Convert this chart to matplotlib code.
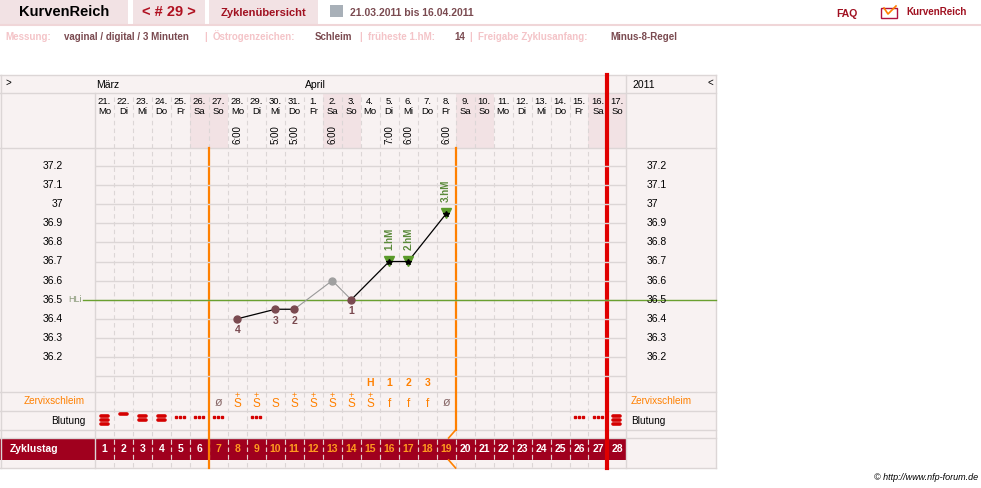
import matplotlib
matplotlib.use("Agg")
import matplotlib.pyplot as plt
from matplotlib.patches import Rectangle

plt.rcParams['font.family'] = ['Liberation Sans', 'DejaVu Sans']

# ---------------- data ----------------
dates = ["21.", "22.", "23.", "24.", "25.", "26.", "27.", "28.", "29.", "30.", "31.", "1.", "2.", "3.",
         "4.", "5.", "6.", "7.", "8.", "9.", "10.", "11.", "12.", "13.", "14.", "15.", "16.", "17."]
weekdays = ["Mo", "Di", "Mi", "Do", "Fr", "Sa", "So", "Mo", "Di", "Mi", "Do", "Fr", "Sa", "So",
            "Mo", "Di", "Mi", "Do", "Fr", "Sa", "So", "Mo", "Di", "Mi", "Do", "Fr", "Sa", "So"]
cycle_days = list(range(1, 29))
temp_days = [8, 10, 11, 13, 14, 16, 17, 19]
temps = [36.40, 36.45, 36.45, 36.60, 36.50, 36.70, 36.70, 36.95]
excluded_day = 13
low_labels = {8: "4", 10: "3", 11: "2", 14: "1"}
hm_labels = {16: "1.hM", 17: "2.hM", 19: "3.hM"}
times = {8: "6:00", 10: "5:00", 11: "5:00", 13: "6:00", 16: "7:00", 17: "6:00", 19: "6:00"}
mucus = {7: "ø", 8: "S+", 9: "S+", 10: "S", 11: "S+", 12: "S+", 13: "S+", 14: "S+", 15: "S+",
         16: "f", 17: "f", 18: "f", 19: "ø"}
peak_labels = {15: "H", 16: "1", 17: "2", 18: "3"}
bleeding = {1: 3, 2: 1, 3: 2, 4: 2, 5: 0, 6: 0, 7: 0, 9: 0, 26: 0, 27: 0, 28: 3}  # 0 = spotting
temp_ticks = [37.2, 37.1, 37.0, 36.9, 36.8, 36.7, 36.6, 36.5, 36.4, 36.3, 36.2]
hl = 36.5
fertile_start, fertile_end = 7, 19
cycle_end = 28

# ---------------- layout ----------------
W, H = 981, 488
fig = plt.figure(figsize=(W/100, H/100), dpi=100)
ax = fig.add_axes([0, 0, 1, 1])
ax.set_xlim(0, W); ax.set_ylim(H, 0); ax.axis('off')

X0, CW = 95.0, 18.98
def cx(d): return X0 + (d - 0.5) * CW
def bx(d): return X0 + d * CW  # right boundary of day d
XR = bx(28)
TOP, MON, DAYB, TEMPB, MUCB, BLB, BARB, BART, BOT = 75, 93, 148, 392, 411, 430, 438, 460, 468

bg = "#f8f2f2"; pink = "#f2e2e4"; grid = "#dcd6d6"; dark = "#a0001e"
brown = "#7a4a50"; orange = "#ff8000"; green = "#5a9a2a"

# header
for (x0, x1, txt, col, fs, wt) in [(0, 128, "KurvenReich", "black", 10.5, "bold"),
                                    (133, 205, "< # 29 >", "#b01020", 10.5, "bold"),
                                    (209, 318, "Zyklenübersicht", "#a01020", 8, "bold")]:
    ax.add_patch(Rectangle((x0, 0), x1 - x0, 24, color=pink, lw=0))
    ax.text((x0 + x1) / 2, 12.5, txt, ha='center', va='center', color=col, fontsize=fs, weight=wt)
ax.plot([0, W], [24.5, 24.5], color="#f0d6d8", lw=1.5)
ax.add_patch(Rectangle((330, 5), 13, 12, color="#a8b0b8", lw=0))
ax.text(350, 12.5, "21.03.2011 bis 16.04.2011", va='center', color=brown, fontsize=7.5, weight='bold')
ax.text(836, 14, "FAQ", va='center', color="#a01020", fontsize=7.5, weight='bold')
ax.plot([884, 888, 896], [8, 14, 6], color=orange, lw=1.2)
ax.add_patch(Rectangle((881, 8), 16, 10, fill=False, ec="#b01040", lw=1))
ax.text(906, 12, "KurvenReich", va='center', color="#a01020", fontsize=7, weight='bold')
for xp, txt, col in [(5, "Messung:", "#f4c4c8"), (64, "vaginal / digital / 3 Minuten", brown),
                     (204, "|", "#f4c4c8"), (213, "Östrogenzeichen:", "#f4c4c8"), (315, "Schleim", brown),
                     (359, "|", "#f4c4c8"), (368, "früheste 1.hM:", "#f4c4c8"), (454, "14", brown),
                     (469, "|", "#f4c4c8"), (478, "Freigabe Zyklusanfang:", "#f4c4c8"), (610, "Minus-8-Regel", brown)]:
    ax.text(xp, 36.5, txt, va='center', color=col, fontsize=7, weight='bold')

# chart background
ax.add_patch(Rectangle((0, TOP), 716, BOT - TOP, color=bg, lw=0))
for d in range(1, 29):
    if weekdays[d - 1] in ("Sa", "So"):
        ax.add_patch(Rectangle((bx(d - 1), MON), CW, DAYB - MON, color=pink, lw=0))
for y in [TOP, MON, DAYB, TEMPB, MUCB, BLB, BARB, BOT]:
    ax.plot([0, 716], [y, y], color=grid, lw=1)
for xv in [0.5, X0, XR, 716]:
    ax.plot([xv, xv], [TOP if xv != X0 else MON, BOT], color=grid, lw=1)
for d in range(1, 28):
    ax.plot([bx(d), bx(d)], [MON + 4, BOT], color=grid, lw=0.8, ls=(0, (4, 3)))

ax.text(5, 83, ">", fontsize=7, va='center')
ax.text(708, 83, "<", fontsize=7, va='center')
ax.text(96, 85, "März", fontsize=7.5, va='center')
ax.text(305, 85, "April", fontsize=7.5, va='center')
ax.text(632, 85, "2011", fontsize=7.5, va='center')
for d in range(1, 29):
    ax.text(cx(d), 101, dates[d - 1], ha='center', va='center', fontsize=6.8)
    ax.text(cx(d), 112, weekdays[d - 1], ha='center', va='center', fontsize=6.8)
    if d in times:
        ax.text(cx(d), 135, times[d], ha='center', va='center', rotation=90, fontsize=7)

# zyklustag bar
ax.add_patch(Rectangle((0, BARB), XR, BART - BARB, color=dark, lw=0))
ax.text(10, 449, "Zyklustag", color='white', fontsize=7.5, weight='bold', va='center')
for d in cycle_days:
    col = "#ff9a20" if fertile_start <= d <= fertile_end else "white"
    ax.text(cx(d), 449.5, str(d), ha='center', va='center', color=col, fontsize=7.5, weight='bold')
    if d < 28:
        ax.plot([bx(d), bx(d)], [BARB + 3, BART - 3], color="#e8c8c8", lw=0.8, ls=(0, (3, 3)))

ax.text(85, 401.5, "Zervixschleim", ha='right', va='center', color=orange, fontsize=7.2)
ax.text(85, 420.5, "Blutung", ha='right', va='center', fontsize=7.2)
ax.text(631, 401.5, "Zervixschleim", va='center', color=orange, fontsize=7.2)
ax.text(631, 420.5, "Blutung", va='center', fontsize=7.2)
for d, m in mucus.items():
    if m == "ø":
        ax.text(cx(d), 403.5, "ø", ha='center', va='center', color="#8a6a6a", fontsize=9)
    else:
        ax.text(cx(d), 404, m[0], ha='center', va='center', color=orange, fontsize=8.5)
        if m.endswith("+"):
            ax.text(cx(d), 395.5, "+", ha='center', va='center', color=orange, fontsize=6.5)
for d, p in peak_labels.items():
    ax.text(cx(d), 383, p, ha='center', va='center', color=orange, fontsize=7.5, weight='bold')
for d, b in bleeding.items():
    if b == 0:
        ax.plot([cx(d) - 4, cx(d), cx(d) + 4], [417] * 3, ls='none', marker='s', ms=1.6, color="#d40000")
    else:
        ys = {1: [414], 2: [416, 420], 3: [415.5, 419.5, 423.5]}[b]
        for yy in ys:
            ax.plot([cx(d) - 3.5, cx(d) + 3.5], [yy, yy], color="#d40000", lw=2.6, solid_capstyle='round')

fx1, fx2, rx = bx(fertile_start - 1), bx(fertile_end), bx(cycle_end - 1)
ax.plot([fx1, fx1], [DAYB, BOT], color=orange, lw=1.6, zorder=5)
ax.plot([fx2, fx2], [DAYB, BLB], color=orange, lw=1.6, zorder=5)
ax.plot([fx2, fx2 - 7], [BLB, BARB], color=orange, lw=1.2, zorder=5)
ax.plot([fx2 - 7, fx2], [BART, BOT], color=orange, lw=1.2, zorder=5)
ax.plot([rx, rx], [TOP, BOT], color="#e00000", lw=3, zorder=6)

ax.text(978, 477, "© http://www.nfp-forum.de", ha='right', va='center', fontsize=6.5, style='italic')

# ---------------- temperature axes ----------------
y_t = lambda px: 37.2 - (px - 166) / 191.0
tax = fig.add_axes([X0 / W, 1 - TEMPB / H, (XR - X0) / W, (TEMPB - DAYB) / H])
tax.set_xlim(0.5, 28.5); tax.set_ylim(y_t(TEMPB), y_t(DAYB))
tax.patch.set_alpha(0); tax.axis('off')
for t in [36.1] + temp_ticks:
    tax.axhline(t, color=grid, lw=1, zorder=0)
xl = 0.5 - (X0 - 83) / CW
xr = 28.5 + (716 - XR) / CW
tax.plot([xl, xr], [hl, hl], color="#6aa030", lw=1, clip_on=False, zorder=1)
for t in temp_ticks:
    lab = f"{t:g}"
    tax.text(0.5 - 1.7, t, lab, ha='right', va='center', fontsize=7.5)
    tax.text(28.5 + 1.05, t, lab, ha='left', va='center', fontsize=7.5)
tax.text(xl - 0.05, hl, "HLi", ha='right', va='center', fontsize=6.5, color="#8a9a7a")

i13 = temp_days.index(excluded_day)
tax.plot(temp_days[i13 - 1:i13 + 2], temps[i13 - 1:i13 + 2], color="#999999", lw=0.8, zorder=2)
tax.plot(temp_days[:i13], temps[:i13], color='black', lw=0.9, zorder=3)
tax.plot(temp_days[i13 + 1:], temps[i13 + 1:], color='black', lw=0.9, zorder=3)
for d, t in zip(temp_days, temps):
    if d == excluded_day:
        tax.plot(d, t, 'o', ms=5, color="#a0a0a0", zorder=4)
    elif d in hm_labels:
        tax.plot(d, t + 0.005, 'v', ms=7.5, color=green, zorder=4)
        tax.plot(d, t, '*', ms=4, color='black', zorder=5)
        tax.text(d, t + 0.06, hm_labels[d], rotation=90, ha='center', va='bottom',
                 fontsize=7, color="#5a8a3a", weight='bold')
    else:
        tax.plot(d, t, 'o', ms=5, color=brown, zorder=4)
    if d in low_labels:
        tax.text(d, t - 0.035, low_labels[d], ha='center', va='top', fontsize=7.5,
                 color=brown, weight='bold')

fig.savefig("out.png", dpi=100)
